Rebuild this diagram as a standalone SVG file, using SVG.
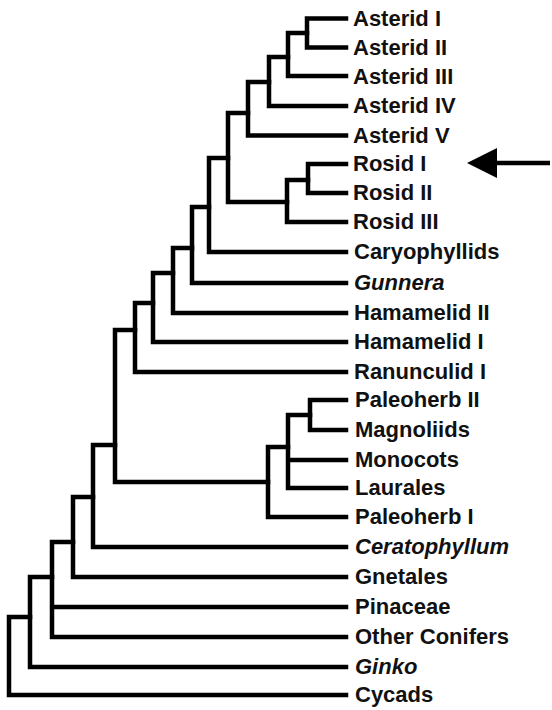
<svg xmlns="http://www.w3.org/2000/svg" width="552" height="710" viewBox="0 0 552 710">
<style>
.e{fill:none;stroke:#000;stroke-width:4.5;stroke-linecap:square;stroke-linejoin:miter}
.t{font-family:"Liberation Sans",Arial,sans-serif;font-weight:bold;font-size:22px;fill:#111}
.i{font-style:italic}
</style>
<rect width="552" height="710" fill="#fff"/>
<g id="connectors" class="e">
<path d="M346 18.5 H307 V47.5 H346"/>
<path d="M307 33 H288 M288 33 V76 H346"/>
<path d="M288 57 H269 V106 H346"/>
<path d="M269 82 H248 V135.5 H346"/>
<path d="M346 164 H308 V193 H346"/>
<path d="M308 180 H287 V222 H346"/>
<path d="M248 113 H228 V202 H287"/>
<path d="M228 158 H209 V252 H346"/>
<path d="M209 207 H192 V283 H346"/>
<path d="M192 248 H173 V313 H346"/>
<path d="M173 273 H153 V342 H346"/>
<path d="M153 303 H135 V372 H346"/>
<path d="M346 400 H310 V430 H346"/>
<path d="M310 415 H288 V488 H346 M288 460 H346"/>
<path d="M288 447 H268 V517 H346"/>
<path d="M135 330 H115 V482 H268"/>
<path d="M115 445 H93 V547 H346"/>
<path d="M93 497 H73 V577 H346"/>
<path d="M73 542 H52 V637 H346 M52 607 H346"/>
<path d="M52 577 H30 V667 H346"/>
<path d="M30 617 H9 V695 H346"/>
</g>
<g id="arrow">
<path d="M550 163 H494" stroke="#000" stroke-width="4.5"/>
<path d="M467 163 L497 148 L497 178 Z" fill="#000"/>
</g>
<g id="labels">
<text id="n-asterid1" class="t" x="353" y="26">Asterid I</text>
<text id="n-asterid2" class="t" x="353" y="55">Asterid II</text>
<text id="n-asterid3" class="t" x="353" y="84">Asterid III</text>
<text id="n-asterid4" class="t" x="353" y="113">Asterid IV</text>
<text id="n-asterid5" class="t" x="353" y="143">Asterid V</text>
<text id="n-rosid1" class="t" x="353" y="171">Rosid I</text>
<text id="n-rosid2" class="t" x="353" y="200">Rosid II</text>
<text id="n-rosid3" class="t" x="353" y="229">Rosid III</text>
<text id="n-cary" class="t" x="354" y="259">Caryophyllids</text>
<text id="n-gunnera" class="t i" x="354" y="290">Gunnera</text>
<text id="n-ham2" class="t" x="354" y="320">Hamamelid II</text>
<text id="n-ham1" class="t" x="354" y="349">Hamamelid I</text>
<text id="n-ran" class="t" x="354" y="379">Ranunculid I</text>
<text id="n-paleo2" class="t" x="355" y="407">Paleoherb II</text>
<text id="n-magn" class="t" x="355" y="437">Magnoliids</text>
<text id="n-mono" class="t" x="355" y="467">Monocots</text>
<text id="n-laur" class="t" x="355" y="495">Laurales</text>
<text id="n-paleo1" class="t" x="355" y="524">Paleoherb I</text>
<text id="n-cerato" class="t i" x="355" y="554">Ceratophyllum</text>
<text id="n-gnet" class="t" x="355" y="584">Gnetales</text>
<text id="n-pina" class="t" x="355" y="614">Pinaceae</text>
<text id="n-other" class="t" x="355" y="644">Other Conifers</text>
<text id="n-ginko" class="t i" x="355" y="674">Ginko</text>
<text id="n-cycads" class="t" x="355" y="702">Cycads</text>
</g>
</svg>
